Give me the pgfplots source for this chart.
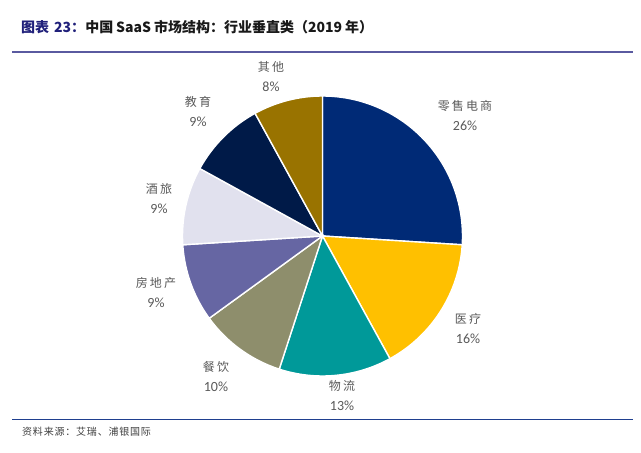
\documentclass[border=0pt]{standalone}
\usepackage{pgfplots}
\pgfplotsset{compat=1.18}
\usepackage{fontspec}
\setmainfont{Noto Sans CJK SC}
\newfontfamily\cjk{Noto Sans CJK SC}
\newfontfamily\num{Carlito}

\definecolor{cRetail}{RGB}{0,42,118}
\definecolor{cMed}{RGB}{255,192,0}
\definecolor{cLog}{RGB}{0,153,153}
\definecolor{cFood}{RGB}{142,142,108}
\definecolor{cEstate}{RGB}{102,102,163}
\definecolor{cHotel}{RGB}{225,225,238}
\definecolor{cEdu}{RGB}{0,26,72}
\definecolor{cOther}{RGB}{153,115,0}
\definecolor{lblgray}{RGB}{89,89,89}
\definecolor{titleblue}{RGB}{32,32,122}
\definecolor{topline}{RGB}{90,90,160}
\definecolor{botline}{RGB}{31,63,143}

% pie centre and radius (pt, one pt per pixel of the reference)
\def\cx{322.5}
\def\cy{217}
\def\R{140}

% slice from cumulative percent #1 to #2
\newcommand{\pieslice}[3]{%
  \fill[#3, draw=white, line width=1.4pt]
    (axis cs:\cx,\cy) -- ++({90-3.6*#1}:\R pt)
    arc[start angle={90-3.6*#1}, end angle={90-3.6*#2}, radius=\R pt] -- cycle;}

% name and share of a slice, label centre at (#1,#2) in picture pixels
\newcommand{\pielabel}[4]{%
  \node[text=lblgray, font=\cjk\fontsize{12}{12}\selectfont\addfontfeature{LetterSpace=18}]
    at (axis cs:#1,{453-#2}) {#3};
  \node[text=lblgray, font=\num\fontsize{14}{14}\selectfont]
    at (axis cs:#1,{453-#2-20}) {#4};}

\begin{document}
\begin{tikzpicture}
\begin{axis}[
  x=1pt, y=1pt,
  xmin=0, xmax=641, ymin=0, ymax=453,
  hide axis, clip=false,
]
\path (axis cs:0,0) rectangle (axis cs:641,453);

% shares: 26, 16, 13, 10, 9, 9, 9, 8 (cumulative bounds)
\pieslice{0}{26}{cRetail}
\pieslice{26}{42}{cMed}
\pieslice{42}{55}{cLog}
\pieslice{55}{65}{cFood}
\pieslice{65}{74}{cEstate}
\pieslice{74}{83}{cHotel}
\pieslice{83}{92}{cEdu}
\pieslice{92}{100}{cOther}

\pielabel{465}{106}{零售电商}{26\%}
\pielabel{468}{319}{医疗}{16\%}
\pielabel{342}{386}{物流}{13\%}
\pielabel{216}{367}{餐饮}{10\%}
\pielabel{156}{283}{房地产}{9\%}
\pielabel{159}{189}{酒旅}{9\%}
\pielabel{198}{102}{教育}{9\%}
\pielabel{271}{67}{其他}{8\%}

% title, rules and source
\node[anchor=west, inner sep=0pt, font=\cjk\bfseries\fontsize{14}{14}\selectfont]
  at (axis cs:21,426) {\textcolor{titleblue}{图表\hspace{5pt}23：}\textcolor{black!90}{中国\hspace{3pt}SaaS\hspace{3pt}市场结构：行业垂直类（2019\hspace{3pt}年）}};
\draw[topline, line width=1.5pt] (axis cs:12,401) -- (axis cs:633,401);
\draw[botline, line width=1.8pt] (axis cs:12,33.5) -- (axis cs:633,33.5);
\node[anchor=west, inner sep=0pt, text=black!75,
  font=\cjk\fontsize{10}{10}\selectfont\addfontfeature{LetterSpace=8}]
  at (axis cs:22,21) {资料来源：艾瑞、浦银国际};
\end{axis}
\end{tikzpicture}
\end{document}
